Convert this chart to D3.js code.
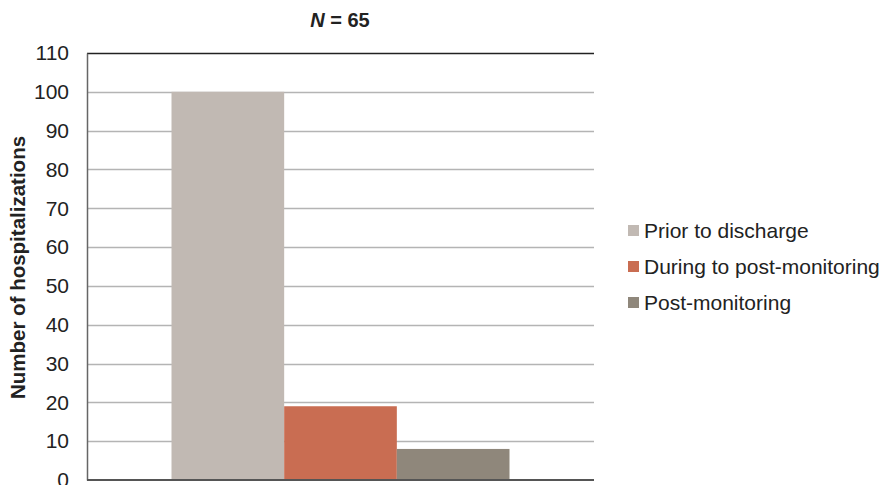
<!DOCTYPE html>
<html>
<head>
<meta charset="utf-8">
<script src="https://cdn.jsdelivr.net/npm/d3@7"></script>
<style>
  body { margin: 0; background: #fff; }
  svg { display: block; font-family: "Liberation Sans", Arial, sans-serif; }
</style>
</head>
<body>
<svg id="chart" width="885" height="485"></svg>
<script>
// Hospitalizations by period
const categories = ["Prior to discharge", "During to post-monitoring", "Post-monitoring"];
const values = [100, 19, 8];
const colors = ["#c1b9b3", "#c96d52", "#8f877b"];
const yTicks = [0, 10, 20, 30, 40, 50, 60, 70, 80, 90, 100, 110];

const svg = d3.select("#chart");
const margin = { left: 87, right: 291, top: 53, bottom: 5 };
const W = 885, H = 485;
const plotL = margin.left, plotR = W - margin.right;
const plotT = margin.top, plotB = H - margin.bottom;

const y = d3.scaleLinear().domain([0, 110]).range([plotB, plotT]);
// group band spans the plot; bars occupy the middle two thirds
const x = d3.scaleBand().domain(categories)
  .range([plotL + (plotR - plotL) / 6, plotR - (plotR - plotL) / 6]);

// gridlines
svg.append("g")
  .selectAll("line")
  .data(yTicks.filter(d => d > 0 && d < 110))
  .join("line")
  .attr("x1", plotL).attr("x2", plotR)
  .attr("y1", d => Math.round(y(d)) + 0.5).attr("y2", d => Math.round(y(d)) + 0.5)
  .attr("stroke", "#b4b4b4").attr("stroke-width", 1.3);

// top border at 110
svg.append("line")
  .attr("x1", plotL).attr("x2", plotR)
  .attr("y1", Math.round(y(110)) + 0.5).attr("y2", Math.round(y(110)) + 0.5)
  .attr("stroke", "#222").attr("stroke-width", 1.3);

// bars
svg.append("g")
  .selectAll("rect")
  .data(values)
  .join("rect")
  .attr("x", (d, i) => x(categories[i]))
  .attr("width", x.bandwidth())
  .attr("y", d => y(d))
  .attr("height", d => y(0) - y(d))
  .attr("fill", (d, i) => colors[i]);

// y axis
const yAxis = d3.axisLeft(y).tickValues(yTicks).tickSize(0).tickPadding(18);
const gy = svg.append("g").attr("transform", `translate(${plotL},0)`).call(yAxis);
gy.select(".domain").attr("stroke", "#666").attr("stroke-width", 1.5);
gy.selectAll("text").attr("font-size", 21).attr("fill", "#222")
  .attr("font-family", "Liberation Sans, Arial, sans-serif");

// baseline
svg.append("line")
  .attr("x1", plotL).attr("x2", plotR)
  .attr("y1", y(0)).attr("y2", y(0))
  .attr("stroke", "#555").attr("stroke-width", 2);

// y axis title
svg.append("text")
  .attr("transform", `translate(25,${(plotT + plotB) / 2 + 1}) rotate(-90)`)
  .attr("text-anchor", "middle")
  .attr("font-size", 20.5).attr("font-weight", "bold").attr("fill", "#222")
  .text("Number of hospitalizations");

// title
const title = svg.append("text")
  .attr("x", 340).attr("y", 27)
  .attr("text-anchor", "middle")
  .attr("font-size", 20).attr("font-weight", "bold").attr("fill", "#222");
title.append("tspan").attr("font-style", "italic").text("N");
title.append("tspan").text(" = 65");

// legend
const legend = svg.append("g").attr("transform", "translate(628,231)");
const rows = legend.selectAll("g").data(categories).join("g")
  .attr("transform", (d, i) => `translate(0,${i * 36})`);
rows.append("rect").attr("x", 0).attr("y", -6).attr("width", 11).attr("height", 11)
  .attr("fill", (d, i) => colors[i]);
rows.append("text").attr("x", 16).attr("y", 7)
  .attr("font-size", 21).attr("fill", "#222").text(d => d);
</script>
</body>
</html>
